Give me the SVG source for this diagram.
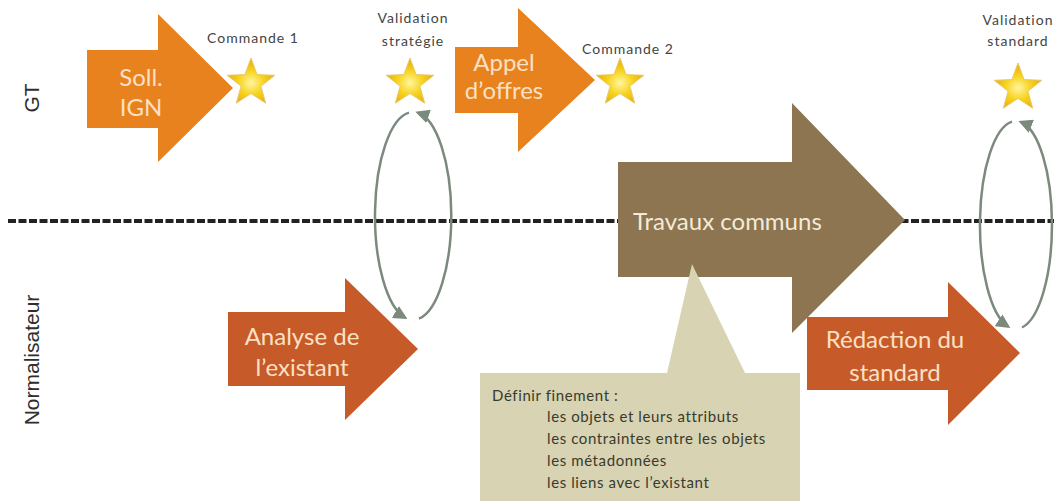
<svg xmlns="http://www.w3.org/2000/svg" xmlns:xlink="http://www.w3.org/1999/xlink" width="1054" height="501" viewBox="0 0 1054 501">
<defs>
<style>
.lane{font-family:"Liberation Sans",Arial,sans-serif;font-size:21px;fill:#2e2e2e;}
.small{font-family:Lato,"Liberation Sans",sans-serif;font-size:14px;fill:#444;letter-spacing:1px;}
.big{font-family:Lato,"Liberation Sans",sans-serif;font-size:24px;text-anchor:middle;}
.lt{fill:#fbe0c4;}
.cal{font-family:Lato,"Liberation Sans",sans-serif;font-size:15px;fill:#3a3a2c;letter-spacing:0.6px;}
.loop{fill:none;stroke:#7b8a7d;stroke-width:2.5;marker-end:url(#ah);}
.orange{fill:#e8821e;}
.rust{fill:#c65a29;}
</style>
<radialGradient id="sg" cx="0.5" cy="0.55" r="0.55">
<stop offset="0" stop-color="#fff6a0"/>
<stop offset="0.5" stop-color="#f7d21a"/>
<stop offset="1" stop-color="#e2a812"/>
</radialGradient>
<polygon id="star" points="0,-25 6.1,-8.4 23.8,-7.7 9.9,3.2 14.7,20.2 0,10.4 -14.7,20.2 -9.9,3.2 -23.8,-7.7 -6.1,-8.4" fill="url(#sg)" stroke="#e9c96a" stroke-width="1"/>
<marker id="ah" viewBox="0 0 10 10" markerUnits="userSpaceOnUse" markerWidth="14" markerHeight="14" refX="8" refY="5" orient="auto">
<path d="M0,0 L10,5 L0,10 z" fill="#7b8a7d"/>
</marker>
</defs>
<rect width="1054" height="501" fill="#ffffff"/>

<g id="lanes">
<text class="lane" transform="translate(39,98) rotate(-90)" text-anchor="middle">GT</text>
<text class="lane" transform="translate(39,360) rotate(-90)" text-anchor="middle">Normalisateur</text>
</g>

<g id="separator">
<line x1="8" y1="221" x2="1054" y2="221" stroke="#222" stroke-width="4" stroke-dasharray="8,2.5"/>
</g>

<g id="connectors">
<path class="loop" d="M409,112.6 A38 104 0 0 0 405,317.7"/>
<path class="loop" d="M419,318.7 A38 104 0 0 0 418,112.7"/>
<path class="loop" d="M1012,121.6 A36 104 0 0 0 1008,326.4"/>
<path class="loop" d="M1022,327.5 A36 104 0 0 0 1021,122"/>
</g>

<g id="soll">
<polygon class="orange" points="87,50 158,50 158,14 233,88 158,162 158,128 87,128"/>
<text class="big lt" x="141" y="86">Soll.</text>
<text class="big lt" x="141" y="116">IGN</text>
</g>

<g id="appel">
<polygon class="orange" points="455,47 518,47 518,8 595,80 518,152 518,113 455,113"/>
<text class="big lt" x="504" y="71">Appel</text>
<text class="big lt" x="504" y="99">d’offres</text>
</g>

<g id="analyse">
<polygon class="rust" points="228,312 345,312 345,278 418,349 345,420 345,386 228,386"/>
<text class="big lt" x="302" y="345">Analyse de</text>
<text class="big lt" x="302" y="376">l’existant</text>
</g>

<g id="redaction">
<polygon class="rust" points="807,317 948,317 948,282 1020,353 948,425 948,390 807,390"/>
<text class="big lt" x="895" y="348">Rédaction du</text>
<text class="big lt" x="895" y="381">standard</text>
</g>

<g id="travaux">
<polygon fill="#8c7550" points="618,162 792,162 792,103 905,220 792,333 792,277 618,277"/>
<text x="633" y="230" font-family="Lato, 'Liberation Sans', sans-serif" font-size="24" fill="#f3ead8">Travaux communs</text>
</g>

<g id="callout">
<polygon fill="#d7d3b3" points="480,373 667,373 692,264 745,373 800,373 800,501 480,501"/>
<text class="cal" x="492" y="401">Définir finement :</text>
<text class="cal" x="547" y="422">les objets et leurs attributs</text>
<text class="cal" x="547" y="444">les contraintes entre  les objets</text>
<text class="cal" x="547" y="466">les métadonnées</text>
<text class="cal" x="547" y="488">les liens avec l’existant</text>
</g>

<g id="commande1">
<use xlink:href="#star" x="251" y="83"/>
<text class="small" x="253" y="43" text-anchor="middle">Commande 1</text>
</g>

<g id="validation-strategie">
<use xlink:href="#star" x="410" y="83"/>
<text class="small" x="413" y="23" text-anchor="middle">Validation</text>
<text class="small" x="413" y="46" text-anchor="middle">stratégie</text>
</g>

<g id="commande2">
<use xlink:href="#star" x="620" y="83"/>
<text class="small" x="628" y="54" text-anchor="middle">Commande 2</text>
</g>

<g id="validation-standard">
<use xlink:href="#star" x="1018" y="88"/>
<text class="small" x="1018" y="25" text-anchor="middle">Validation</text>
<text class="small" x="1018" y="46" text-anchor="middle">standard</text>
</g>
</svg>
